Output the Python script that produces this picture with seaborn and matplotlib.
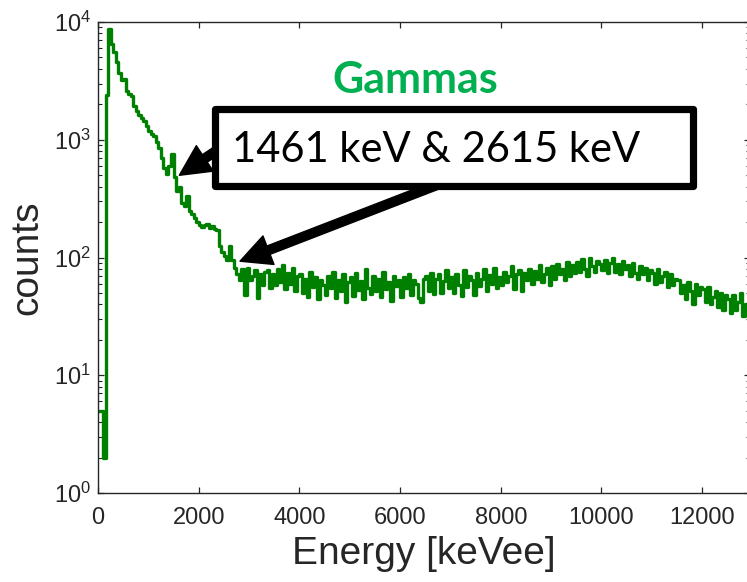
import numpy as np
import pandas as pd
import matplotlib
matplotlib.use("Agg")
import matplotlib.pyplot as plt
from matplotlib.patches import Rectangle
import seaborn as sns

# ---------------- data ----------------
bin_width_kev = 50
counts = [
    # 0 - 3350 keV (rise, Compton continuum, 1461 and 2615 keV features)
    5, 5, 2, 2400, 8700, 6500, 5600, 4600, 3700, 3200,
    3250, 2600, 2450, 2350, 1950, 1750, 1620, 1540, 1450, 1300,
    1180, 1110, 1070, 960, 850, 700, 570, 510, 600, 750,
    480, 370, 400, 290, 275, 335, 250, 232, 215, 200,
    190, 183, 188, 192, 178, 186, 176, 170, 125, 112,
    103, 95, 125, 95, 82, 73, 65, 80, 48, 82,
    64, 70, 78, 45, 72, 58, 76,
    # 3350 - 3500
    78, 55, 72,
    # 3500 - 12500 (10 bins per row)
    58, 80, 62, 86, 54, 74, 60, 82, 52, 70,
    72, 50, 66, 46, 75, 56, 68, 44, 64, 58,
    48, 70, 55, 76, 45, 64, 52, 72, 42, 62,
    68, 47, 74, 53, 63, 44, 80, 55, 49, 70,
    52, 66, 46, 75, 54, 62, 43, 70, 57, 65,
    46, 68, 55, 73, 48, 64, 59, 45, 42, 66,
    70, 52, 74, 49, 66, 72, 50, 63, 78, 55,
    68, 50, 73, 58, 47, 79, 56, 70, 64, 48,
    74, 57, 66, 80, 52, 71, 60, 82, 55, 68,
    58, 76, 62, 70, 84, 54, 72, 78, 52, 74,
    64, 80, 60, 77, 66, 86, 62, 73, 82, 58,
    84, 66, 88, 72, 80, 64, 92, 70, 86, 74,
    92, 75, 98, 80, 70, 100, 84, 76, 94, 88,
    78, 96, 74, 90, 100, 76, 88, 72, 94, 80,
    86, 70, 90, 74, 66, 84, 72, 82, 64, 78,
    74, 60, 80, 62, 70, 76, 56, 72, 58, 66,
    64, 50, 58, 44, 62, 52, 40, 60, 48, 56,
    54, 42, 56, 40, 46, 52, 38, 50, 36, 48,
    # 12500 - 12950
    44, 34, 48, 36, 42, 50, 32, 40, 38,
]
bin_edges = [bin_width_kev * i for i in range(len(counts) + 1)]
bin_centers = [e + bin_width_kev / 2 for e in bin_edges[:-1]]

x_ticks = [0, 2000, 4000, 6000, 8000, 10000, 12000]
y_ticks = [1, 10, 100, 1000, 10000]
annotation_text = "1461 keV & 2615 keV"
title_text = "Gammas"
peak_1461 = (1615, 499)
peak_2615 = (2820, 93)

df = pd.DataFrame({"energy": bin_centers, "counts": counts})

# ---------------- style ----------------
sns.set_theme(style="ticks")
plt.rcParams["font.family"] = ["Liberation Sans", "DejaVu Sans"]
plt.rcParams["mathtext.fontset"] = "custom"
plt.rcParams["mathtext.rm"] = "Liberation Sans"
plt.rcParams["mathtext.it"] = "Liberation Sans:italic"
plt.rcParams["mathtext.bf"] = "Liberation Sans:bold"

W, H = 747, 582
fig = plt.figure(figsize=(W / 100, H / 100), dpi=100)
ax = fig.add_axes([98 / W, 1 - 493 / H, (750 - 98) / W, (493 - 22) / H])

sns.histplot(data=df, x="energy", weights="counts", bins=bin_edges,
             element="step", fill=False, color="#008000", linewidth=2.4, ax=ax)

ax.set_yscale("log")
ax.set_xlim(0, 12950)
ax.set_ylim(1, 1e4)
ax.set_xticks(x_ticks)
ax.set_xticklabels([str(t) for t in x_ticks])
ax.set_yticks(y_ticks)

dark = "#262626"
for s in ax.spines.values():
    s.set_visible(True)
    s.set_color(dark)
    s.set_linewidth(1.0)

ax.tick_params(axis="both", which="both", direction="in", top=True, right=True,
               colors=dark, labelcolor=dark)
ax.tick_params(axis="both", which="major", length=4.5, width=0.9, labelsize=17)
ax.tick_params(axis="y", which="minor", length=2.6, width=0.8)
ax.tick_params(axis="x", which="minor", bottom=False, top=False)
ax.tick_params(axis="x", which="major", pad=10)
ax.tick_params(axis="y", which="major", pad=5)

ax.set_xlabel("Energy [keVee]", fontsize=28, color=dark, labelpad=5)
ax.set_ylabel("counts", fontsize=28, color=dark, labelpad=6)
ax.grid(False)

# ---------------- annotations ----------------
arrow_kw = dict(arrowstyle="simple,head_length=1.1,head_width=1.1,tail_width=0.32",
                mutation_scale=20, color="black", shrinkA=0, shrinkB=0)
ax.annotate("", xy=peak_1461, xycoords="data",
            xytext=(225 / W, 1 - 145 / H), textcoords="figure fraction",
            arrowprops=arrow_kw, annotation_clip=False)
ax.annotate("", xy=peak_2615, xycoords="data",
            xytext=(450 / W, 1 - 180 / H), textcoords="figure fraction",
            arrowprops=arrow_kw, annotation_clip=False)

box = Rectangle((215 / W, 1 - 186 / H), (692.5 - 215) / W, (186 - 108.5) / H,
                transform=fig.transFigure, facecolor="white", edgecolor="black",
                linewidth=5.2, joinstyle="round", zorder=5)
fig.add_artist(box)
fig.text(436 / W, 1 - 150 / H, annotation_text, ha="center", va="center",
         fontsize=30, family=["Lato", "DejaVu Sans"], color="black", zorder=6)
fig.text(415.5 / W, 1 - 80 / H, title_text, ha="center", va="center",
         fontsize=31, family=["Lato", "DejaVu Sans"], fontweight="bold",
         color="#00B050", zorder=6)

fig.savefig("out.png", dpi=100)
